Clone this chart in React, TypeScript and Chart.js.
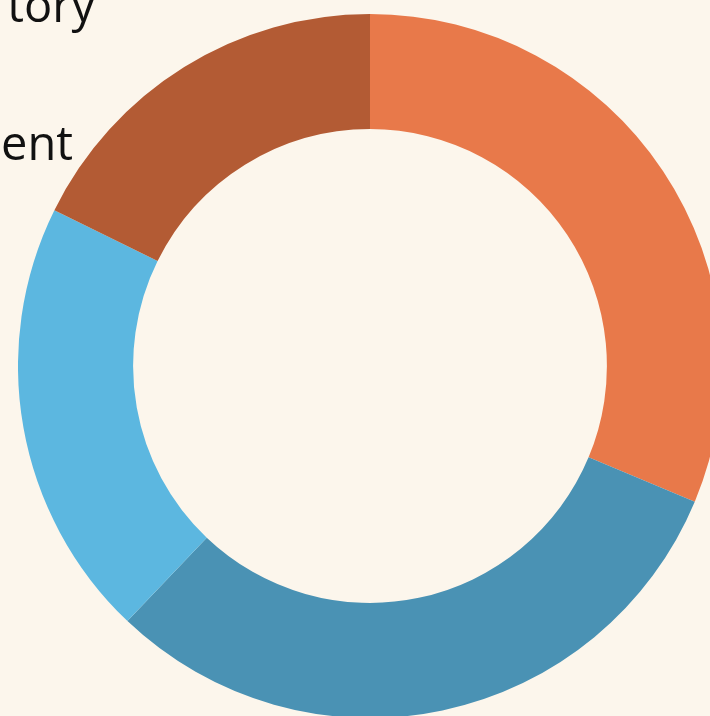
import React, { useEffect, useRef } from "react";
import { Chart, registerables } from "chart.js";

Chart.register(...registerables);

const categories = ["Segment 1", "Segment 2", "Segment 3", "Segment 4"];
const values = [31.3, 30.8, 20.2, 17.7];
const colors = ["#E8794A", "#4A92B4", "#5CB7E0", "#B35B34"];
const textLabels = ["tory", "ent"];

export default function App() {
  const ref = useRef<HTMLCanvasElement | null>(null);

  useEffect(() => {
    document.body.style.margin = "0";
    document.body.style.background = "#FCF6EC";
    const canvas = ref.current;
    if (!canvas) return;
    const chart = new Chart(canvas, {
      type: "doughnut",
      data: {
        labels: categories,
        datasets: [
          {
            data: values,
            backgroundColor: colors,
            borderWidth: 0,
          },
        ],
      },
      options: {
        responsive: false,
        animation: false,
        cutout: "67.3%",
        layout: { padding: 0 },
        plugins: {
          legend: { display: false },
          tooltip: { enabled: false },
        },
      },
    });
    return () => chart.destroy();
  }, []);

  const textStyle: React.CSSProperties = {
    position: "absolute",
    fontFamily: "'Open Sans', sans-serif",
    fontSize: 47,
    fontWeight: 500,
    color: "#111",
    lineHeight: "50px",
    whiteSpace: "nowrap",
  };

  return (
    <div
      style={{
        position: "relative",
        width: 710,
        height: 716,
        overflow: "hidden",
        background: "#FCF6EC",
      }}
    >
      <canvas
        ref={ref}
        width={704}
        height={704}
        style={{ position: "absolute", left: 18, top: 14, width: 704, height: 704 }}
      />
      <div style={{ ...textStyle, right: 710 - 95, top: -21 }}>{textLabels[0]}</div>
      <div style={{ ...textStyle, right: 710 - 73, top: 117 }}>{textLabels[1]}</div>
    </div>
  );
}
